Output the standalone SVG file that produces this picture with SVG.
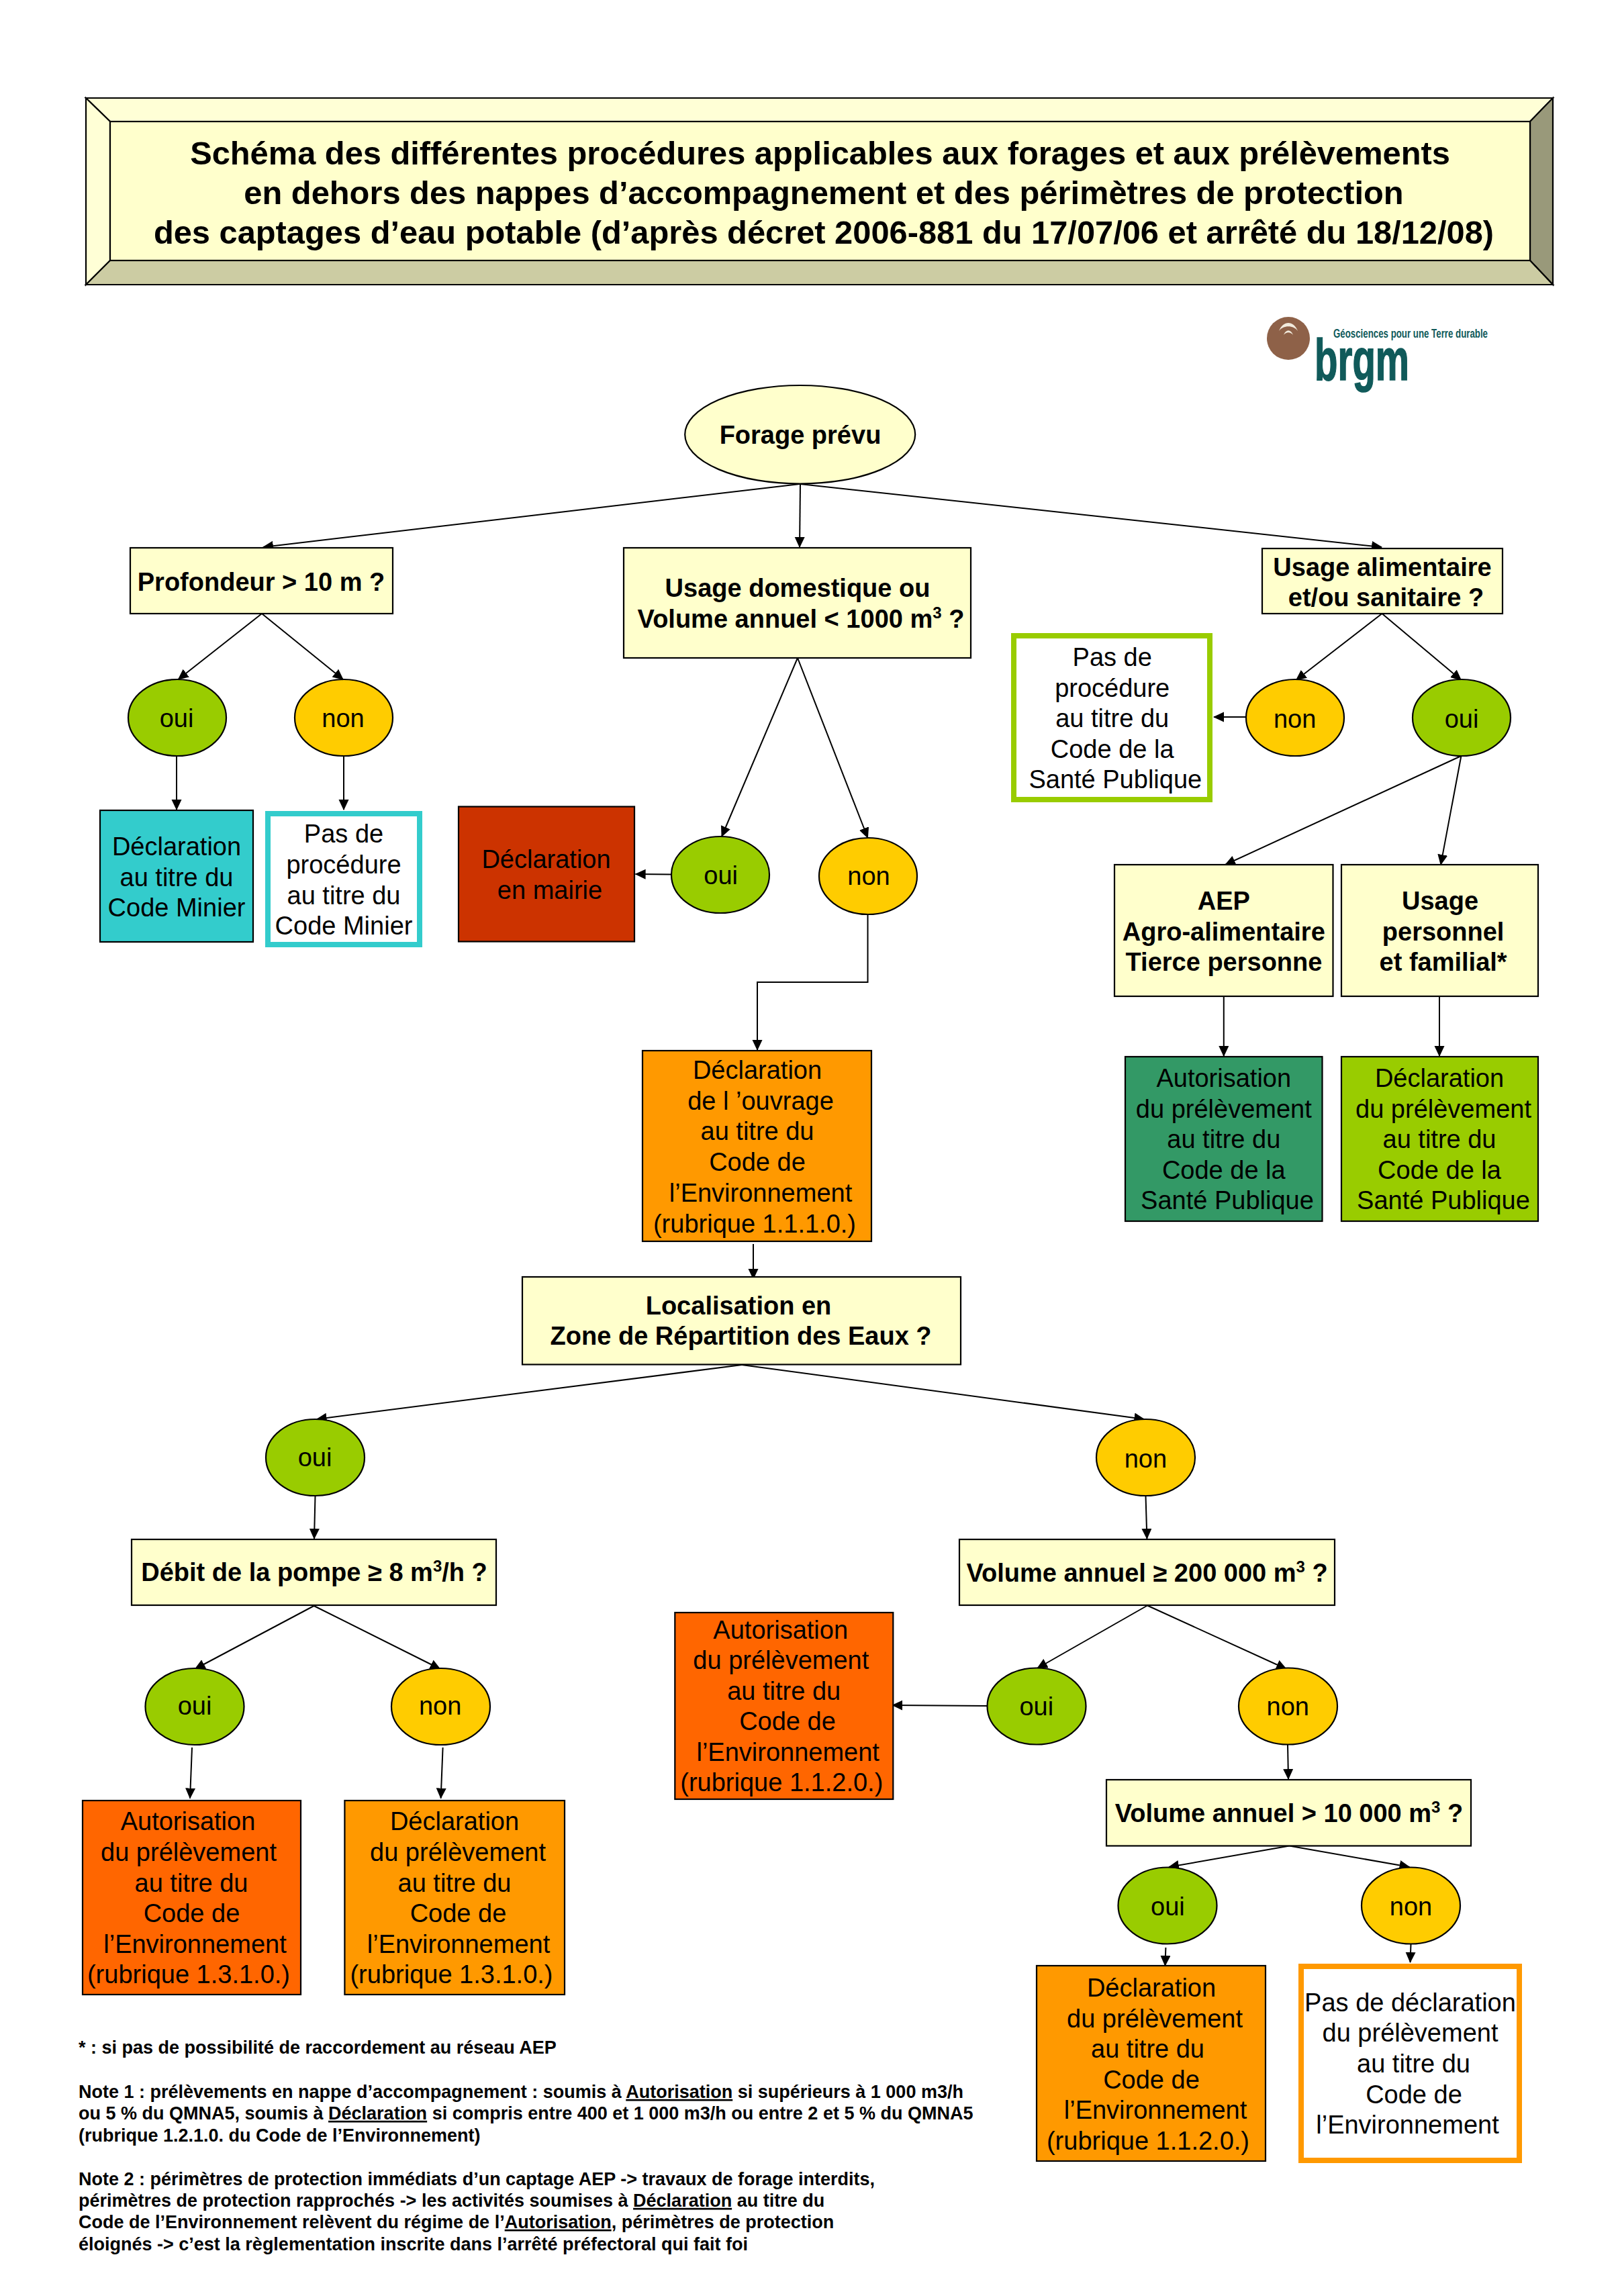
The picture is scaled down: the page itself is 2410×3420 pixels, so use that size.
<svg xmlns="http://www.w3.org/2000/svg" width="2410" height="3420" viewBox="0 0 2410 3420">
<style>
text{font-family:"Liberation Sans",Arial,sans-serif;font-size:38px;fill:#000;text-anchor:middle;transform:translateY(-1.2px)}
.b{font-weight:700}
.s{stroke:#000;stroke-width:2.2}
.q{fill:#FFFFCC}
.y{fill:#99CC00}
.n{fill:#FFCC00}
.o{fill:#FF9900}
.r{fill:#FF6600}
.c{fill:none;stroke:#000;stroke-width:2;marker-end:url(#a)}
.t{font-size:48.800px;font-weight:700}
.note{font-size:27px;font-weight:700;text-anchor:start}
.sup{font-size:24px}
.u{text-decoration:underline}
</style>
<defs>
<marker id="a" markerUnits="userSpaceOnUse" markerWidth="18" markerHeight="16" refX="15" refY="7.5" orient="auto"><path d="M0 0L16 7.5L0 15Z" fill="#000"/></marker>
</defs>
<g transform="translate(1 0)">
<g id="title">
<rect x="127" y="146" width="2185" height="278" class="q"/>
<polygon points="127,146 2312,146 2278,181 163,181" fill="#FFFFD6" class="s"/>
<polygon points="127,146 163,181 163,388 127,424" fill="#FFFFD6" class="s"/>
<polygon points="2312,146 2278,181 2278,388 2312,424" fill="#99997A" class="s"/>
<polygon points="127,424 163,388 2278,388 2312,424" fill="#CCCCA3" class="s"/>
<rect x="163" y="181" width="2115" height="207" class="q s"/>
<text class="t" x="1220.500" y="246.500">Schéma des différentes procédures applicables aux forages et aux prélèvements</text>
<text class="t" x="1226" y="305">en dehors des nappes d’accompagnement et des périmètres de protection</text>
<text class="t" x="1226" y="364">des captages d’eau potable (d’après décret 2006-881 du 17/07/06 et arrêté du 18/12/08)</text>
</g>
<g id="logo">
<circle cx="1918" cy="504" r="32" fill="#8E6148"/>
<path d="M1904 493C1910 477 1926 477 1932 493C1926 484 1910 484 1904 493Z" fill="#F2EBDD"/>
<path d="M1911 499C1914 490 1922 490 1925 499C1921 494 1915 494 1911 499Z" fill="#F2EBDD"/>
<text x="1985" y="504" class="b" style="font-size:17.500px;text-anchor:start;fill:#105A5A" textLength="230" lengthAdjust="spacingAndGlyphs">Géosciences pour une Terre durable</text>
<text x="1957" y="567" class="b" style="font-size:87px;text-anchor:start;fill:#105A5A;stroke:#105A5A;stroke-width:1.5" textLength="141" lengthAdjust="spacingAndGlyphs">brgm</text>
</g>
<g id="connectors">
<path class="c" d="M1190 721L391 815"/>
<path class="c" d="M1191 721L1190 815"/>
<path class="c" d="M1191 721L2057 815"/>
<path class="c" d="M389 914L264.500 1012"/>
<path class="c" d="M389 914L510 1012"/>
<path class="c" d="M262 1126L262 1206"/>
<path class="c" d="M511 1126L511 1206"/>
<path class="c" d="M1187 980L1074 1246"/>
<path class="c" d="M1187 980L1291.500 1248"/>
<path class="c" d="M999 1302.500L945.600 1302"/>
<path class="c" d="M1291.500 1362L1291.500 1463L1127 1463L1127 1564"/>
<path class="c" d="M2057.500 914L1929.600 1013"/>
<path class="c" d="M2057.500 914L2175.400 1013"/>
<path class="c" d="M1854.600 1068L1807 1068"/>
<path class="c" d="M2175.400 1126L1824 1288"/>
<path class="c" d="M2175.400 1126L2145 1288"/>
<path class="c" d="M1821.800 1484L1821.800 1573"/>
<path class="c" d="M2143 1484L2143 1573"/>
<path class="c" d="M1121 1853L1121 1905"/>
<path class="c" d="M1104 2033L470.600 2114"/>
<path class="c" d="M1104 2033L1703.400 2114"/>
<path class="c" d="M468.500 2228L467 2292"/>
<path class="c" d="M1705.500 2228L1707.400 2292"/>
<path class="c" d="M466.600 2392L289.500 2486"/>
<path class="c" d="M466.600 2392L654.600 2486"/>
<path class="c" d="M285 2603L282 2678.600"/>
<path class="c" d="M658.600 2603L655.600 2678.600"/>
<path class="c" d="M1708 2391.500L1544 2485"/>
<path class="c" d="M1708 2391.500L1915 2486"/>
<path class="c" d="M1470 2541L1328.300 2540"/>
<path class="c" d="M1917 2598.500L1918 2650"/>
<path class="c" d="M1919.500 2749.500L1740 2781"/>
<path class="c" d="M1919.500 2749.500L2098.500 2781"/>
<path class="c" d="M1735.400 2901L1734.400 2928"/>
<path class="c" d="M2100.500 2896L2099.500 2923"/>
</g>
<g id="forage"><ellipse cx="1190.700" cy="647.300" rx="171.500" ry="73.300" class="q s"/><text class="b" x="1191" y="662">Forage prévu</text></g>
<g id="profondeur"><rect x="193" y="816" width="391" height="98" class="q s"/><text class="b" x="388" y="881">Profondeur &gt; 10 m ?</text></g>
<g id="usage-dom"><rect x="928" y="816" width="517" height="164" class="q s"/><text class="b" x="1187" y="890">Usage domestique ou</text><text class="b" x="1192" y="936">Volume annuel &lt; 1000 m<tspan class="sup" dy="-14">3</tspan><tspan dy="14"> ?</tspan></text></g>
<g id="usage-alim"><rect x="1879" y="817" width="358" height="97" class="q s"/><text class="b" x="2058" y="859">Usage alimentaire</text><text class="b" x="2063.500" y="904">et/ou sanitaire ?</text></g>
<g id="pd-oui"><ellipse cx="263" cy="1069" rx="73" ry="57" class="y s"/><text x="262" y="1084">oui</text></g>
<g id="pd-non"><ellipse cx="511" cy="1069" rx="73" ry="57" class="n s"/><text x="510" y="1084">non</text></g>
<g id="dm-oui"><ellipse cx="1072" cy="1303" rx="73" ry="57" class="y s"/><text x="1072.700" y="1318.500">oui</text></g>
<g id="dm-non"><ellipse cx="1292" cy="1305" rx="73" ry="57" class="n s"/><text x="1293" y="1319.500">non</text></g>
<g id="al-non"><ellipse cx="1928" cy="1069" rx="73" ry="57" class="n s"/><text x="1927.600" y="1085">non</text></g>
<g id="al-oui"><ellipse cx="2176" cy="1069" rx="73" ry="57" class="y s"/><text x="2176" y="1085">oui</text></g>
<g id="decl-minier"><rect x="148" y="1207" width="228" height="196" fill="#33CCCC" class="s"/><text x="262" y="1275.500">Déclaration</text><text x="262" y="1321">au titre du</text><text x="262" y="1366.500">Code Minier</text></g>
<g id="pas-minier"><rect x="398" y="1212" width="226" height="195" fill="#fff" stroke="#33CCCC" stroke-width="8"/><text x="511" y="1256.500">Pas de</text><text x="511" y="1302.500">procédure</text><text x="511" y="1348">au titre du</text><text x="511" y="1393.500">Code Minier</text></g>
<g id="mairie"><rect x="682" y="1201.500" width="262" height="201" fill="#CC3300" class="s"/><text x="812.500" y="1294.500">Déclaration</text><text x="818" y="1340.500">en mairie</text></g>
<g id="pas-sante"><rect x="1509" y="947" width="292" height="244" fill="#fff" stroke="#99CC00" stroke-width="8"/><text x="1655.700" y="993.500">Pas de</text><text x="1655.700" y="1039">procédure</text><text x="1655.700" y="1084.500">au titre du</text><text x="1655.700" y="1130">Code de la</text><text x="1660.300" y="1175.500">Santé Publique</text></g>
<g id="aep"><rect x="1659" y="1288" width="325.500" height="196" class="q s"/><text class="b" x="1821.800" y="1356">AEP</text><text class="b" x="1821.800" y="1402">Agro-alimentaire</text><text class="b" x="1822" y="1447.500">Tierce personne</text></g>
<g id="usage-perso"><rect x="1997" y="1288" width="293" height="196" class="q s"/><text class="b" x="2144" y="1356">Usage</text><text class="b" x="2148.600" y="1402">personnel</text><text class="b" x="2148.600" y="1447.500">et familial*</text></g>
<g id="auto-sante"><rect x="1675" y="1574" width="293.500" height="245" fill="#339966" class="s"/><text x="1821.800" y="1620.500">Autorisation</text><text x="1821.800" y="1666.500">du prélèvement</text><text x="1821.800" y="1711.500">au titre du</text><text x="1821.800" y="1757.500">Code de la</text><text x="1827" y="1802.500">Santé Publique</text></g>
<g id="decl-sante"><rect x="1997" y="1574" width="293" height="245" fill="#99CC00" class="s"/><text x="2143" y="1620.500">Déclaration</text><text x="2149" y="1666.500">du prélèvement</text><text x="2143" y="1711.500">au titre du</text><text x="2143" y="1757.500">Code de la</text><text x="2149" y="1802.500">Santé Publique</text></g>
<g id="decl-ouvrage"><rect x="956" y="1565" width="341" height="284" class="o s"/><text x="1127" y="1608">Déclaration</text><text x="1132" y="1653.800">de l ’ouvrage</text><text x="1127" y="1699.500">au titre du</text><text x="1127" y="1745.300">Code de</text><text x="1132" y="1791">l’Environnement</text><text x="1123" y="1837">(rubrique 1.1.1.0.)</text></g>
<g id="localisation"><rect x="777" y="1902" width="653" height="130.500" class="q s"/><text class="b" x="1099" y="1959.500">Localisation en</text><text class="b" x="1102.600" y="2004.500">Zone de Répartition des Eaux ?</text></g>
<g id="zre-oui"><ellipse cx="468.500" cy="2171" rx="73.500" ry="57" class="y s"/><text x="468" y="2185.500">oui</text></g>
<g id="zre-non"><ellipse cx="1705.500" cy="2171" rx="73.500" ry="57" class="n s"/><text x="1705.400" y="2187">non</text></g>
<g id="debit"><rect x="195" y="2293" width="543" height="98" class="q s"/><text class="b" x="467" y="2356.500">Débit de la pompe ≥ 8 m<tspan class="sup" dy="-14">3</tspan><tspan dy="14">/h ?</tspan></text></g>
<g id="volume200"><rect x="1428" y="2293" width="559" height="98" class="q s"/><text class="b" x="1707.600" y="2357">Volume annuel ≥ 200 000 m<tspan class="sup" dy="-14">3</tspan><tspan dy="14"> ?</tspan></text></g>
<g id="db-oui"><ellipse cx="289" cy="2542" rx="73.500" ry="57" class="y s"/><text x="289" y="2555.500">oui</text></g>
<g id="db-non"><ellipse cx="655.500" cy="2542" rx="73.500" ry="57" class="n s"/><text x="654.600" y="2555.500">non</text></g>
<g id="v200-oui"><ellipse cx="1543" cy="2541.500" rx="73.500" ry="57" class="y s"/><text x="1542.800" y="2556">oui</text></g>
<g id="v200-non"><ellipse cx="1917.500" cy="2541.500" rx="73.500" ry="57" class="n s"/><text x="1917.300" y="2556">non</text></g>
<g id="auto-1120"><rect x="1004.300" y="2402" width="325" height="278" class="r s"/><text x="1161.700" y="2442.200">Autorisation</text><text x="1162.300" y="2487.500">du prélèvement</text><text x="1166.700" y="2533.200">au titre du</text><text x="1172" y="2578.500">Code de</text><text x="1172.700" y="2624.200">l’Environnement</text><text x="1163.300" y="2669.500">(rubrique 1.1.2.0.)</text></g>
<g id="volume10"><rect x="1647" y="2651" width="543" height="98.500" class="q s"/><text class="b" x="1919" y="2715.500">Volume annuel &gt; 10 000 m<tspan class="sup" dy="-14">3</tspan><tspan dy="14"> ?</tspan></text></g>
<g id="v10-oui"><ellipse cx="1738" cy="2838.500" rx="73.500" ry="57" class="y s"/><text x="1738.400" y="2854.500">oui</text></g>
<g id="v10-non"><ellipse cx="2100.500" cy="2838.500" rx="73.500" ry="57" class="n s"/><text x="2100.500" y="2854.500">non</text></g>
<g id="auto-1310"><rect x="122" y="2682" width="325" height="289" class="r s"/><text x="279" y="2727.500">Autorisation</text><text x="280" y="2773">du prélèvement</text><text x="284" y="2819">au titre du</text><text x="284.500" y="2864.500">Code de</text><text x="289.500" y="2910.500">l’Environnement</text><text x="280" y="2955.500">(rubrique 1.3.1.0.)</text></g>
<g id="decl-1310"><rect x="512.400" y="2682" width="327.600" height="289" class="o s"/><text x="676" y="2727.500">Déclaration</text><text x="681" y="2773">du prélèvement</text><text x="676" y="2819">au titre du</text><text x="681.500" y="2864.500">Code de</text><text x="682" y="2910.500">l’Environnement</text><text x="671.500" y="2955.500">(rubrique 1.3.1.0.)</text></g>
<g id="decl-1120"><rect x="1543" y="2928" width="341" height="291" class="o s"/><text x="1714" y="2975.500">Déclaration</text><text x="1719" y="3021">du prélèvement</text><text x="1708.500" y="3066.500">au titre du</text><text x="1714" y="3112">Code de</text><text x="1720" y="3157.500">l’Environnement</text><text x="1709" y="3203">(rubrique 1.1.2.0.)</text></g>
<g id="pas-decl"><rect x="1937" y="2929" width="325" height="289" fill="#fff" stroke="#FF9900" stroke-width="8"/><text x="2099.500" y="2997.500">Pas de déclaration</text><text x="2099.500" y="3042.500">du prélèvement</text><text x="2104.500" y="3088.500">au titre du</text><text x="2105" y="3134.500">Code de</text><text x="2095.500" y="3179.500">l’Environnement</text></g>
<g id="notes">
<text class="note" x="116" y="3060">* : si pas de possibilité de raccordement au réseau AEP</text>
<text class="note" x="116" y="3126">Note 1 : prélèvements en nappe d’accompagnement : soumis à <tspan class="u">Autorisation</tspan> si supérieurs à 1 000 m3/h</text>
<text class="note" x="116" y="3158">ou 5 % du QMNA5, soumis à <tspan class="u">Déclaration</tspan> si compris entre 400 et 1 000 m3/h ou entre 2 et 5 % du QMNA5</text>
<text class="note" x="116" y="3191">(rubrique 1.2.1.0. du Code de l’Environnement)</text>
<text class="note" x="116" y="3256">Note 2 : périmètres de protection immédiats d’un captage AEP -&gt; travaux de forage interdits,</text>
<text class="note" x="116" y="3288">périmètres de protection rapprochés -&gt; les activités soumises à <tspan class="u">Déclaration</tspan> au titre du</text>
<text class="note" x="116" y="3320">Code de l’Environnement relèvent du régime de l’<tspan class="u">Autorisation</tspan>, périmètres de protection</text>
<text class="note" x="116" y="3353">éloignés -&gt; c’est la règlementation inscrite dans l’arrêté préfectoral qui fait foi</text>
</g>
</g>
</svg>
